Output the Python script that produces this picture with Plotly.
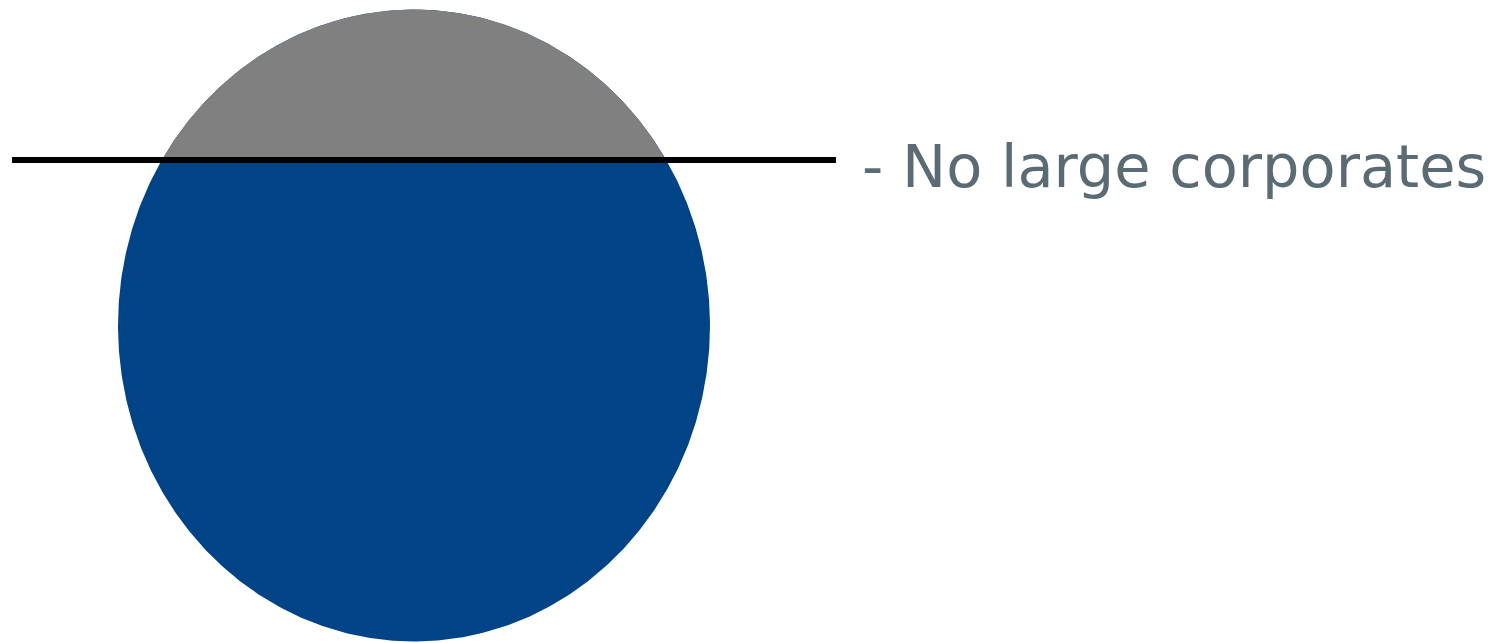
import numpy as np
import plotly.graph_objects as go

# Diagram parameters (pixel space of the 1501x643 canvas)
circle_center = [414, 325.5]
circle_radii = [296, 316]
split_level = [160]
line_extent = [12, 836]
label_text = ["- No large corporates"]
label_pos = [862, 172]
colors = {"cap": "#808080", "body": "#004487", "line": "#000000", "text": "#5b6b73"}

cx, cy = circle_center
rx, ry = circle_radii
yl = split_level[0]

t = np.linspace(0, 2 * np.pi, 721)
ex = cx + rx * np.cos(t)
ey = cy + ry * np.sin(t)

# cap: part of the ellipse above the split level (screen coords, y down)
phi = np.arcsin((yl - cy) / ry)          # negative angle where ellipse meets line
ta = np.linspace(-np.pi - phi, phi, 361)
capx = cx + rx * np.cos(ta)
capy = cy + ry * np.sin(ta)

fig = go.Figure()
fig.add_trace(go.Scatter(x=ex, y=ey, mode="lines", fill="toself",
                         fillcolor=colors["body"], line=dict(width=0, color=colors["body"]),
                         hoverinfo="skip", showlegend=False))
fig.add_trace(go.Scatter(x=np.append(capx, capx[0]), y=np.append(capy, capy[0]),
                         mode="lines", fill="toself", fillcolor=colors["cap"],
                         line=dict(width=0, color=colors["cap"]),
                         hoverinfo="skip", showlegend=False))
fig.add_trace(go.Scatter(x=line_extent, y=[yl, yl], mode="lines",
                         line=dict(width=6, color=colors["line"]),
                         hoverinfo="skip", showlegend=False))
fig.add_trace(go.Scatter(x=[label_pos[0]], y=[label_pos[1]], mode="text",
                         text=label_text, textposition="middle right",
                         textfont=dict(family="DejaVu Sans", size=59, color=colors["text"]),
                         hoverinfo="skip", showlegend=False))

fig.update_layout(
    width=1501, height=643,
    margin=dict(l=0, r=0, t=0, b=0),
    paper_bgcolor="white", plot_bgcolor="white",
    xaxis=dict(range=[0, 1501], visible=False, fixedrange=True),
    yaxis=dict(range=[643, 0], visible=False, fixedrange=True),
)
fig.write_html("out.html", config={"displayModeBar": False},
               post_script="document.body.style.margin='0';document.body.style.overflow='hidden';")
